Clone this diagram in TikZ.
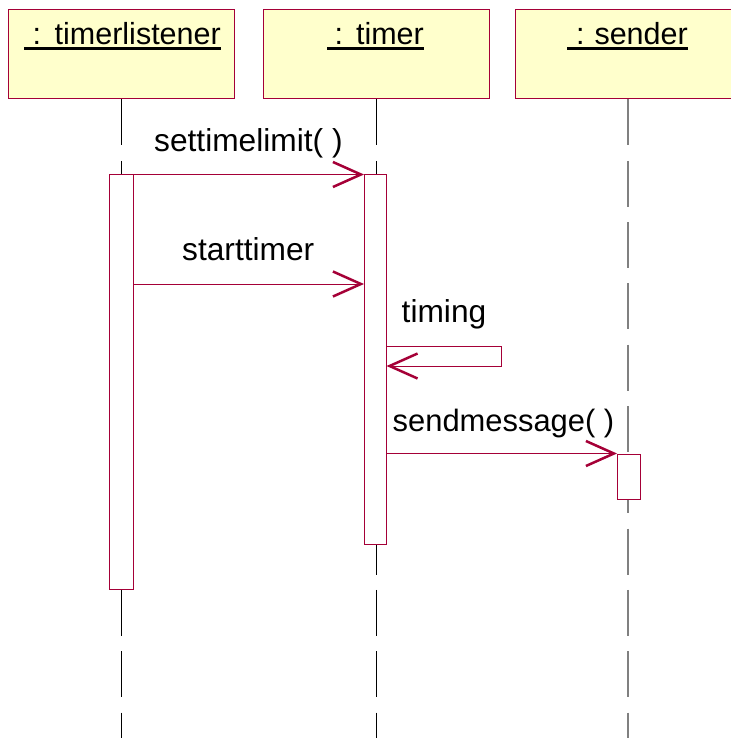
\documentclass[tikz,border=0pt]{standalone}
\usepackage{fontspec}
\setmainfont{Liberation Sans}
\usetikzlibrary{arrows.meta}
\definecolor{umlred}{RGB}{165,0,55}
\definecolor{umlfill}{RGB}{255,255,204}
\definecolor{lifegray}{RGB}{128,128,128}
\begin{document}
\begin{tikzpicture}[x=1pt,y=-1pt,
  objbox/.style={draw=umlred, fill=umlfill, line width=1pt, minimum width=226pt, minimum height=89pt, inner sep=0pt},
  objtext/.style={font=\fontsize{30.5pt}{36pt}\selectfont, anchor=base east, inner sep=0pt},
  lbl/.style={font=\fontsize{31.7pt}{38pt}\selectfont, anchor=base west, inner sep=0pt},
  lifeline/.style={line width=1pt, dash pattern=on 46pt off 15.3pt},
  actbar/.style={draw=umlred, fill=white, line width=1pt, inner sep=0pt},
  msg/.style={draw=umlred, line width=1pt, -{Straight Barb[length=28pt,width=25pt,line width=2.5pt]}},
  uline/.style={line width=2.6pt}
]
\useasboundingbox (0,0) rectangle (730,738);
% object boxes
\node[objbox] (o1) at (121,54.5) {};
\node[objbox] (o2) at (376,54.5) {};
\node[objbox] (o3) at (628,54.5) {};
% lifelines
\coordinate (bot) at (0,738);
\draw[lifeline] (o1.south) -- (o1.south |- bot);
\draw[lifeline] (o2.south) -- (o2.south |- bot);
\draw[lifeline, draw=lifegray, line width=1.3pt] (o3.south) -- (o3.south |- bot);
% object names
\node[objtext] (n1) at (221,45) {:\hspace{13.5pt}timerlistener};
\node[objtext] (n2) at (424,45) {:\hspace{13pt}timer};
\node[objtext] (n3) at (688,45) {:\hspace{10pt}sender};
\draw[uline] (24,48.3) -- (221,48.3);
\draw[uline] (327,48.3) -- (424,48.3);
\draw[uline] (567,48.3) -- (688,48.3);
% activation bars
\node[actbar, minimum width=23.5pt, minimum height=414pt] (a1) at (121.25,382) {};
\node[actbar, minimum width=21.5pt, minimum height=369pt] (a2) at (375.25,359.5) {};
\node[actbar, minimum width=23pt, minimum height=45pt] (a3) at (629,476.5) {};
% levels
\coordinate (y2) at (0,284);
\coordinate (t1) at (501,346);
\coordinate (t2) at (501,366);
% messages
\draw[msg] (a1.north east) -- (a2.north west);
\draw[msg] (a1.east |- y2) -- (a2.west |- y2);
\draw[msg] (a2.east |- t1) -- (t1) -- (t2) -- (a2.east |- t2);
\draw[msg] (a2.east |- a3.north) -- (a3.north west);
% labels
\node[lbl] (l1) at (154,152) {settimelimit( )};
\node[lbl] (l2) at (182,260) {starttimer};
\node[lbl] (l3) at (401.5,322) {timing};
\node[lbl, font=\fontsize{30.9pt}{37pt}\selectfont] (l4) at (392.5,431) {sendmessage( )};
\end{tikzpicture}
\end{document}
